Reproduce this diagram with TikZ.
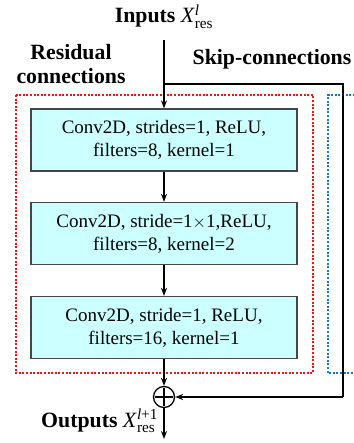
\documentclass[tikz,border=0pt]{standalone}
\usepackage{amsmath}
\usepackage{fontspec}
\setmainfont{Liberation Serif}
\usetikzlibrary{arrows.meta}
\definecolor{boxfill}{RGB}{204,255,255}
\definecolor{boxdraw}{RGB}{70,70,70}
\definecolor{resred}{RGB}{240,20,20}
\definecolor{skipblue}{RGB}{20,120,210}
\newcommand{\xres}[1]{\textit{\mdseries X}$^{\text{\normalfont\mdseries #1}}_{\text{\normalfont\mdseries res}}$}
\begin{document}
\begin{tikzpicture}[x=1pt,y=-1pt,
  convbox/.style={draw=boxdraw,fill=boxfill,line width=1.3pt,minimum width=266pt,minimum height=62pt,inner sep=0pt,align=center,font=\fontsize{19}{23}\selectfont},
  conn/.style={line width=1.4pt,-{Stealth[length=8pt,width=6pt]}},
  lbl/.style={font=\fontsize{21.8}{24}\selectfont\bfseries,align=center},
  dotbox/.style={line width=1.3pt,dash pattern=on 2pt off 1.6pt}]
\useasboundingbox (0,0) rectangle (353,443);
% dashed boxes
\draw[dotbox,resred] (16,95) rectangle (313,373);
\draw[dotbox,skipblue] (360,373) -- (328,373) -- (328,95) -- (360,95);
% labels
\node[lbl,anchor=base] (inp) at (164,23) {Inputs \xres{\textit{l}}};
\node[lbl,anchor=base] (res1) at (71,60) {Residual};
\node[lbl,anchor=base] (res2) at (71,84) {connections};
\node[lbl,anchor=base] (skipl) at (272,65) {Skip-connections};
% boxes
\node[convbox] (b1) at (164,140) {Conv2D, strides=1, ReLU,\\filters=8, kernel=1};
\node[convbox] (b2) at (164,233.5) {Conv2D, stride=1$\times$1,ReLU,\\filters=8, kernel=2};
\node[convbox] (b3) at (164,327.5) {Conv2D, stride=1, ReLU,\\filters=16, kernel=1};
\node[draw,circle,line width=1.3pt,minimum size=21pt,inner sep=0pt,fill=white] (sum) at (164,397) {};
\draw[line width=1.2pt] ([yshift=-2pt]sum.north) -- ([yshift=2pt]sum.south) ([xshift=2pt]sum.west) -- ([xshift=-2pt]sum.east);
\coordinate (top) at (164,40);
\coordinate (br) at (164,84);
\coordinate (corner1) at (343,84);
\coordinate (corner2) at (343,397);
\coordinate (outend) at (164,439);
\draw[conn] (top) -- (b1.north);
\draw[line width=1.4pt] (br) -- (corner1) -- (corner2);
\draw[conn] (corner2) -- (sum.east);
\draw[conn] (b1) -- (b2);
\draw[conn] (b2) -- (b3);
\draw[conn] (b3) -- (sum.north);
\draw[conn] (sum.south) -- (outend);
\node[lbl,anchor=base west,inner sep=0pt] (outl) at (41,427) {Outputs \xres{\textit{l}+1}};
\end{tikzpicture}
\end{document}
